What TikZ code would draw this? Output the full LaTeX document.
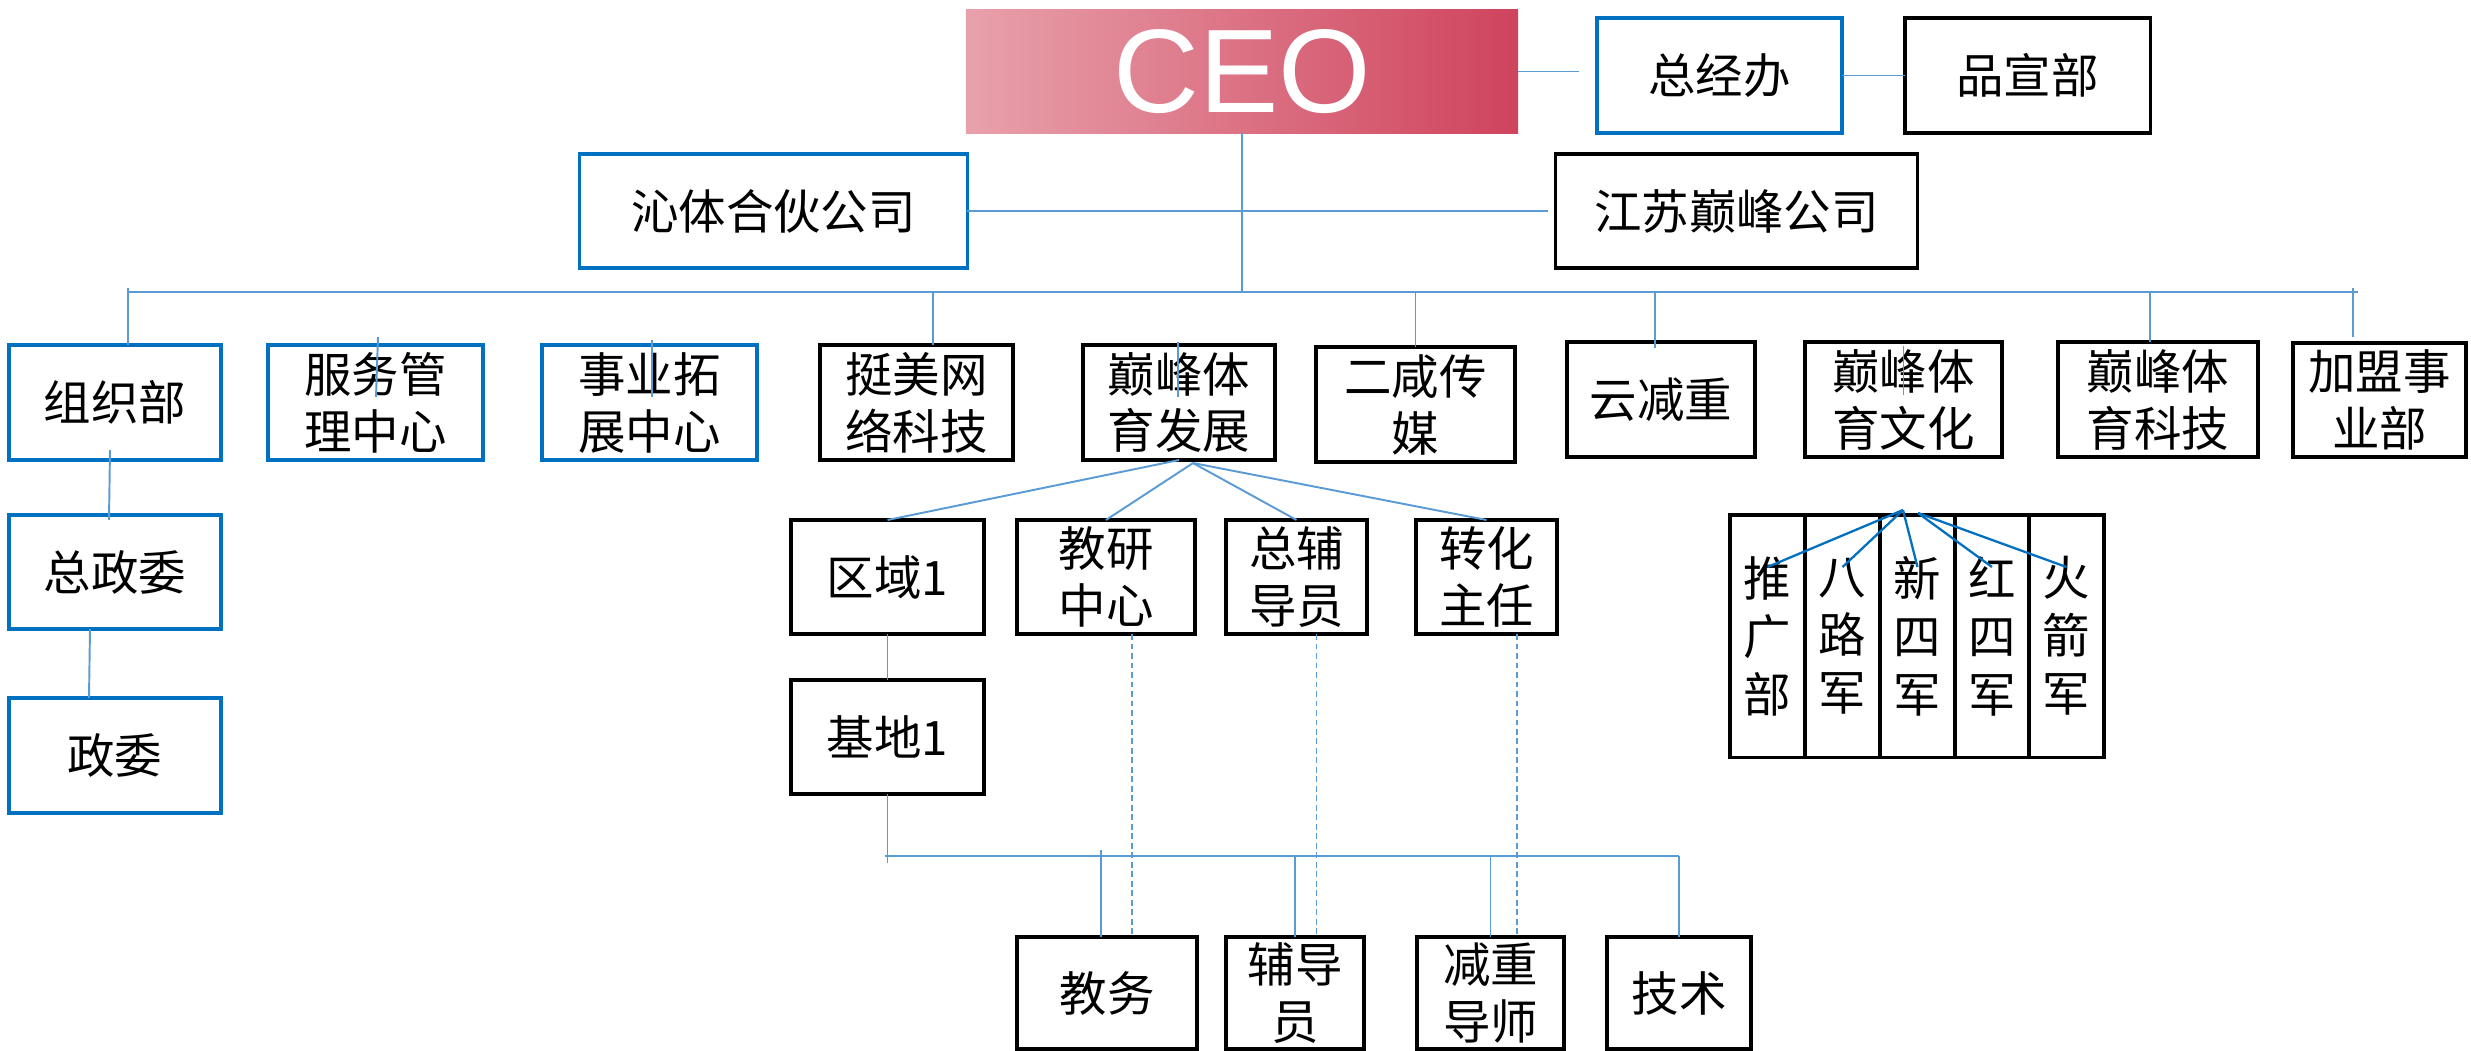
\documentclass[tikz,border=0pt]{standalone}
\usepackage{fontspec}
\newfontfamily\cjk{Noto Sans CJK SC}
\newfontfamily\arialf{Liberation Sans}
\usetikzlibrary{calc}
\definecolor{boxblue}{HTML}{0070C0}
\definecolor{linkblue}{HTML}{5B9BD5}
\definecolor{ceoL}{HTML}{E8A1AB}
\definecolor{ceoR}{HTML}{CF435D}
\begin{document}
\begin{tikzpicture}[x=0.01cm,y=-0.01cm,
  base/.style={rectangle, inner sep=0pt, outer sep=0pt, align=center,
    font=\cjk\fontsize{13.5pt}{16.2pt}\selectfont, text=black, line width=0.9pt},
  bluebox/.style={base, draw=boxblue},
  blackbox/.style={base, draw=black},
  colbox/.style={base, draw=black, font=\cjk\fontsize{13.5pt}{16.5pt}\selectfont,
    minimum width=0.75cm, minimum height=2.42cm},
  link/.style={draw=linkblue, line width=0.55pt},
  dlink/.style={draw=linkblue, line width=0.55pt, dash pattern=on 1.6pt off 1.1pt},
  glink/.style={draw=boxblue, line width=0.65pt},
]
\useasboundingbox (0,0) rectangle (2471,1050);
\fill[white] (0,0) rectangle (2471,1050);

% top
\node[base, minimum width=5.52cm, minimum height=1.23cm, left color=ceoL, right color=ceoR,
  text=white, font=\arialf\fontsize{33.8pt}{36pt}\selectfont] (ceo) at (1242,71.5) {CEO};
\node[bluebox, minimum width=2.45cm, minimum height=1.15cm] (zjb) at (1719.5,75.5) {总经办};
\node[blackbox, minimum width=2.45cm, minimum height=1.15cm] (pxb) at (2027.5,75.5) {品宣部};
\node[bluebox, minimum width=3.87cm, minimum height=1.14cm] (qt) at (773.5,211) {沁体合伙公司};
\node[blackbox, minimum width=3.61cm, minimum height=1.14cm] (js) at (1736.5,211) {江苏巅峰公司};

% second row
\node[bluebox, minimum width=2.12cm, minimum height=1.15cm] (zzb) at (115,402.5) {组织部};
\node[bluebox, minimum width=2.15cm, minimum height=1.15cm] (fw) at (375.5,402.5) {服务管\\理中心};
\node[bluebox, minimum width=2.15cm, minimum height=1.15cm] (sy) at (649.5,402.5) {事业拓\\展中心};
\node[blackbox, minimum width=1.93cm, minimum height=1.15cm] (tm) at (916.5,402.5) {挺美网\\络科技};
\node[blackbox, minimum width=1.92cm, minimum height=1.15cm] (dfz) at (1179,402.5) {巅峰体\\育发展};
\node[blackbox, minimum width=1.99cm, minimum height=1.15cm] (ex) at (1415.5,404.5) {二咸传\\媒};
\node[blackbox, minimum width=1.88cm, minimum height=1.15cm] (yjz) at (1661,399.5) {云减重};
\node[blackbox, minimum width=1.97cm, minimum height=1.15cm] (wh) at (1903.5,399.5) {巅峰体\\育文化};
\node[blackbox, minimum width=2.00cm, minimum height=1.15cm] (kj) at (2158,399.5) {巅峰体\\育科技};
\node[blackbox, minimum width=1.73cm, minimum height=1.14cm] (jm) at (2379.5,400) {加盟事\\业部};

% left column
\node[bluebox, minimum width=2.12cm, minimum height=1.14cm] (zzw) at (115,572) {总政委};
\node[bluebox, minimum width=2.12cm, minimum height=1.15cm] (zw) at (115,755.5) {政委};

% third row
\node[blackbox, minimum width=1.93cm, minimum height=1.14cm] (qy) at (887.5,577) {区域1};
\node[blackbox, minimum width=1.78cm, minimum height=1.14cm] (jy) at (1106,577) {教研\\中心};
\node[blackbox, minimum width=1.41cm, minimum height=1.14cm] (zfd) at (1296.5,577) {总辅\\导员};
\node[blackbox, minimum width=1.41cm, minimum height=1.14cm] (zh) at (1486.5,577) {转化\\主任};
\node[blackbox, minimum width=1.93cm, minimum height=1.14cm] (jd) at (887.5,737) {基地1};

% bottom row
\node[blackbox, minimum width=1.80cm, minimum height=1.12cm] (jw) at (1107,993) {教务};
\node[blackbox, minimum width=1.38cm, minimum height=1.12cm] (fdy) at (1295,993) {辅导\\员};
\node[blackbox, minimum width=1.47cm, minimum height=1.12cm] (jzds) at (1490.5,993) {减重\\导师};
\node[blackbox, minimum width=1.44cm, minimum height=1.12cm] (jsh) at (1679,993) {技术};

% group columns
\node[colbox] (g1) at (1767.5,636) {推\\广\\部};
\node[colbox] (g2) at (1842.5,636) {八\\路\\军};
\node[colbox] (g3) at (1917.5,636) {新\\四\\军};
\node[colbox, minimum width=0.74cm] (g4) at (1992,636) {红\\四\\军};
\node[colbox] (g5) at (2066.5,636) {火\\箭\\军};

% ---- connectors ----
\coordinate (busL) at (128,292);
\coordinate (busR) at (2358,292);
\draw[link] (busL) -- (busR);
\draw[link] (ceo.south) -- (ceo.south |- busL);
\draw[link, shorten >=0.18cm] (ceo.east) -- (ceo.east -| zjb.west);
\draw[link] (zjb.east) -- (pxb.west);
\draw[link, shorten >=0.08cm] (qt.east) -- (js.west);

\draw[link] ($(busL)+(0,-4)$) -- (busL |- zzb.north);
\coordinate (tmT) at ($(tm.north)+(16.5,0)$);
\draw[link] (tmT |- busL) -- (tmT);
\draw[link] (ex.north |- busL) -- (ex.north);
\coordinate (yjT) at ($(yjz.north)+(-6,0)$);
\draw[link] (yjT |- busL) -- ($(yjT)+(0,6)$);
\coordinate (kjT) at ($(kj.north)+(-8,0)$);
\draw[link] (kjT |- busL) -- (kjT);
\coordinate (jmT) at ($(jm.north)+(-26.5,-55)$);
\draw[link] (jmT) -- ($(jm.north)+(-26.5,-6)$);

% stray inner lines
\draw[link] ($(fw.north)+(2.5,-8)$) -- ($(fw.north)+(0.5,52)$);
\draw[link] ($(sy.north)+(2.5,-5)$) -- ($(sy.north)+(2.5,52)$);
\draw[link] ($(dfz.north)+(-1,-3)$) -- ($(dfz.north)+(-1,52)$);
\draw[link] ($(wh.north)+(0,4)$) -- ($(wh.north)+(0,53)$);

% left column links
\draw[link] ($(zzb.south)+(-5,-10)$) -- ($(zzw.north)+(-6,5)$);
\draw[link] ($(zzw.south)+(-25,0)$) -- ($(zw.north)+(-26,0)$);

% development branch
\coordinate (dfO) at ($(dfz.south)+(14,3)$);
\draw[link] (dfz.south) -- (qy.north);
\draw[link] (dfO) -- (jy.north);
\draw[link] (dfO) -- (zfd.north);
\draw[link] (dfO) -- (zh.north);
\draw[link] (qy.south) -- (jd.north);

\coordinate (b2L) at (885,856);
\coordinate (b2R) at (1679,856);
\draw[link] (jd.south) -- ($(jd.south)+(0,69)$);
\draw[link] (b2L) -- (b2R);
\draw[link] ($(jw.north)+(-6,-87)$) -- ($(jw.north)+(-6,0)$);
\draw[link] (fdy.north |- b2L) -- (fdy.north);
\draw[link] (jzds.north |- b2L) -- (jzds.north);
\draw[link] (b2R) -- (jsh.north);

\coordinate (d1) at ($(jy.south)+(26,0)$);
\draw[dlink] (d1) -- (d1 |- jw.north);
\coordinate (d2) at ($(zfd.south)+(20,0)$);
\draw[dlink] (d2) -- (d2 |- fdy.north);
\coordinate (d3) at ($(zh.south)+(30.5,0)$);
\draw[dlink] (d3) -- (d3 |- jzds.north);

% group links
\coordinate (gO1) at (1903,510);
\coordinate (gO2) at (1918,513);
\draw[glink] (gO1) -- ($(g1.center)+(0,-69)$);
\draw[glink] (gO1) -- ($(g2.center)+(0,-69)$);
\draw[glink] (gO1) -- ($(g3.center)+(0,-69)$);
\draw[glink] (gO2) -- ($(g4.center)+(0,-69)$);
\draw[glink] (gO2) -- ($(g5.center)+(0,-69)$);
\end{tikzpicture}
\end{document}
